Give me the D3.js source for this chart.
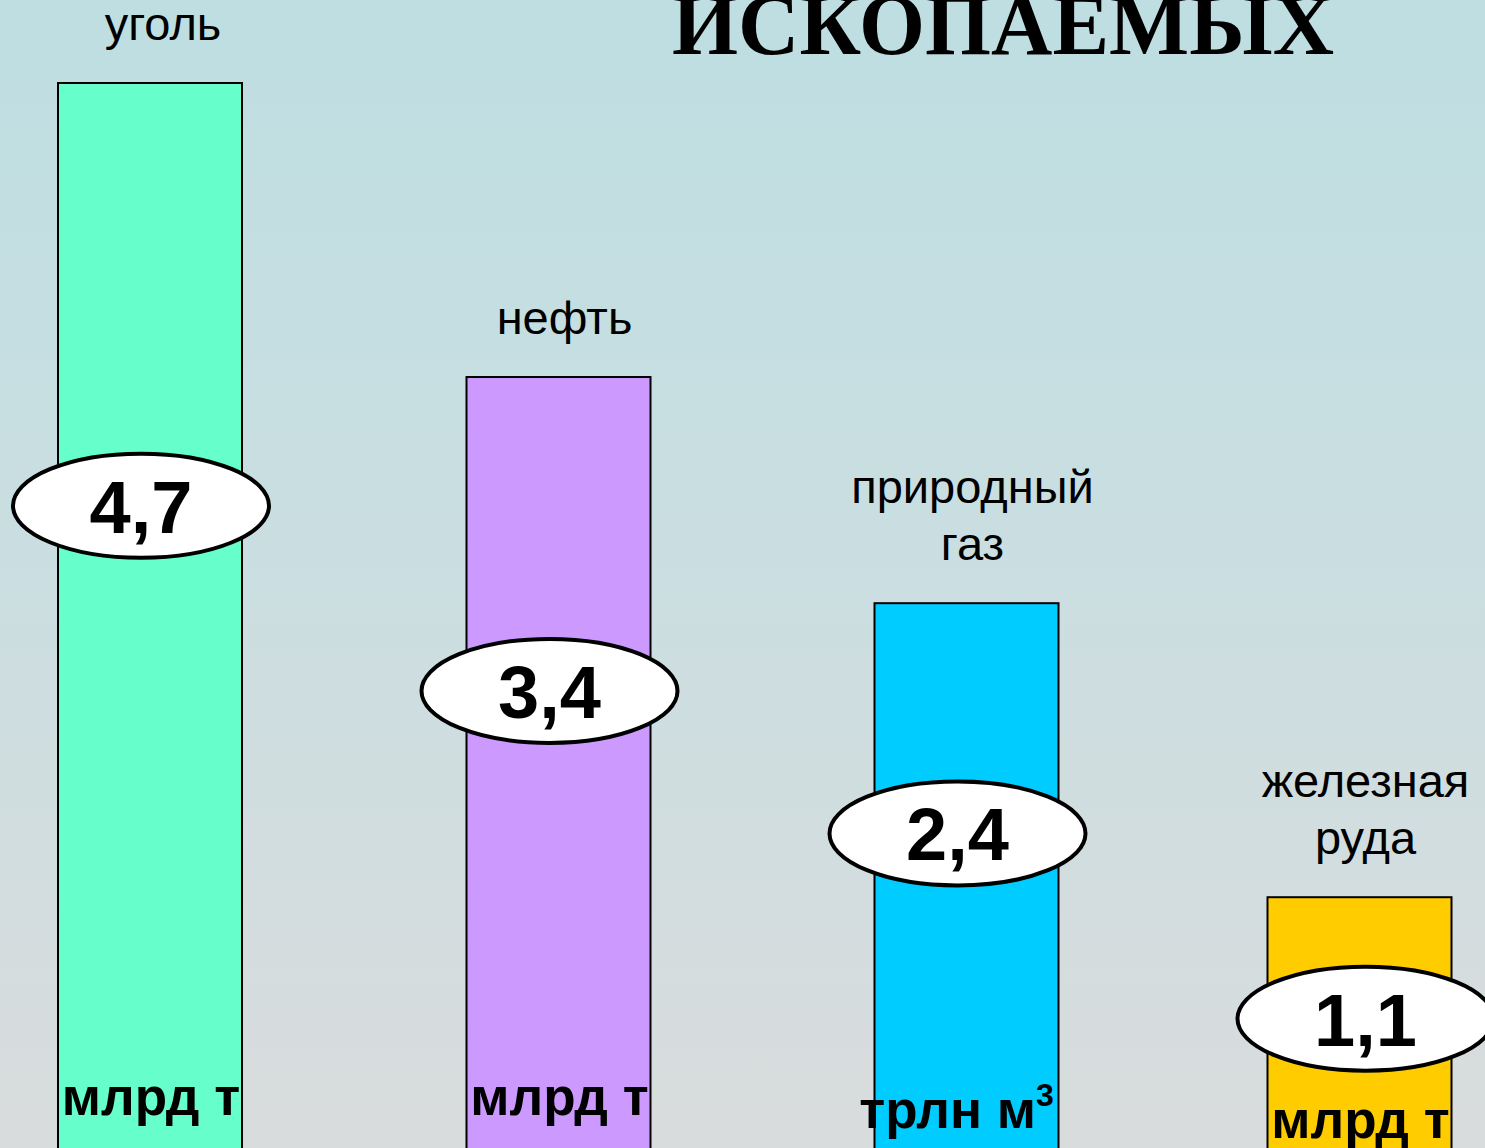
<!DOCTYPE html>
<html><head><meta charset="utf-8">
<script src="https://cdn.jsdelivr.net/npm/d3@7"></script>
<style>html,body{margin:0;padding:0;overflow:hidden;}</style>
</head><body>
<script>
const categories = [["уголь"], ["нефть"], ["природный", "газ"], ["железная", "руда"]];
const values = [4.7, 3.4, 2.4, 1.1];
const valueLabels = ["4,7", "3,4", "2,4", "1,1"];
const units = ["млрд т", "млрд т", "трлн м", "млрд т"];
const unitSup = ["", "", "3", ""];
const colors = ["#66FFCC", "#CC99FF", "#00CCFF", "#FFCC00"];
const title = "ИСКОПАЕМЫХ";

const W = 1485, H = 1148;
const svg = d3.select("body").append("svg").attr("width", W).attr("height", H)
  .style("font-family", "'Liberation Sans', Arial, sans-serif");

const defs = svg.append("defs");
const grad = defs.append("linearGradient").attr("id", "bg").attr("x1", 0).attr("y1", 0).attr("x2", 0).attr("y2", 1);
grad.append("stop").attr("offset", "0%").attr("stop-color", "#BEDEE2");
grad.append("stop").attr("offset", "50%").attr("stop-color", "#CBDEE1");
grad.append("stop").attr("offset", "100%").attr("stop-color", "#D9DCDD");
svg.append("rect").attr("width", W).attr("height", H).attr("fill", "url(#bg)");

const y = d3.scaleLinear().domain([0, 4.7]).range([1146, 83]);
const xc = d3.scaleOrdinal().domain(d3.range(values.length)).range([150, 558.5, 966.5, 1359.5]);
const bw = 184;

// title
svg.append("text").attr("x", 672).attr("y", 54)
  .attr("textLength", 662).attr("lengthAdjust", "spacingAndGlyphs")
  .style("font-family", "'Liberation Serif', 'Times New Roman', serif")
  .style("font-weight", "bold").style("font-size", "86px").attr("fill", "#000")
  .text(title);

const g = svg.selectAll("g.bar").data(values).join("g").attr("class", "bar");

g.append("rect")
  .attr("x", (d, i) => xc(i) - bw / 2)
  .attr("y", d => y(d))
  .attr("width", bw)
  .attr("height", d => y(0) - y(d) + 10)
  .attr("fill", (d, i) => colors[i])
  .attr("stroke", "#000").attr("stroke-width", 2);

// category labels
g.each(function (d, i) {
  const lines = categories[i];
  const top = y(d) - 43;
  const t = d3.select(this).append("text")
    .attr("text-anchor", "middle").style("font-size", "47px").attr("fill", "#000");
  lines.forEach((ln, k) => {
    t.append("tspan").attr("x", xc(i) + (i === 0 ? 13 : 6))
      .attr("y", top - (lines.length - 1 - k) * 57).text(ln);
  });
});

// unit labels
const unitY = [1115, 1115, 1128, 1138];
g.each(function (d, i) {
  const t = d3.select(this).append("text")
    .attr("x", xc(i) + (i === 2 ? -10 : 1)).attr("y", unitY[i])
    .attr("text-anchor", "middle")
    .style("font-size", "53px").style("font-weight", "bold").attr("fill", "#000");
  t.append("tspan").text(units[i]);
  if (unitSup[i]) {
    t.append("tspan").attr("dy", -22).style("font-size", "32px").text(unitSup[i]);
  }
});

// value ellipses
const cyOf = d => y(0.63 * d - 0.13);
const cxOf = (i) => xc(i) + (i === 3 ? 6 : -9);
g.append("ellipse")
  .attr("cx", (d, i) => cxOf(i))
  .attr("cy", d => cyOf(d))
  .attr("rx", 128).attr("ry", 52)
  .attr("fill", "#fff").attr("stroke", "#000").attr("stroke-width", 4);

g.append("text")
  .attr("x", (d, i) => cxOf(i))
  .attr("y", d => cyOf(d) + 27)
  .attr("text-anchor", "middle")
  .style("font-size", "74px").style("font-weight", "bold").attr("fill", "#000")
  .text((d, i) => valueLabels[i]);
</script>
</body></html>
